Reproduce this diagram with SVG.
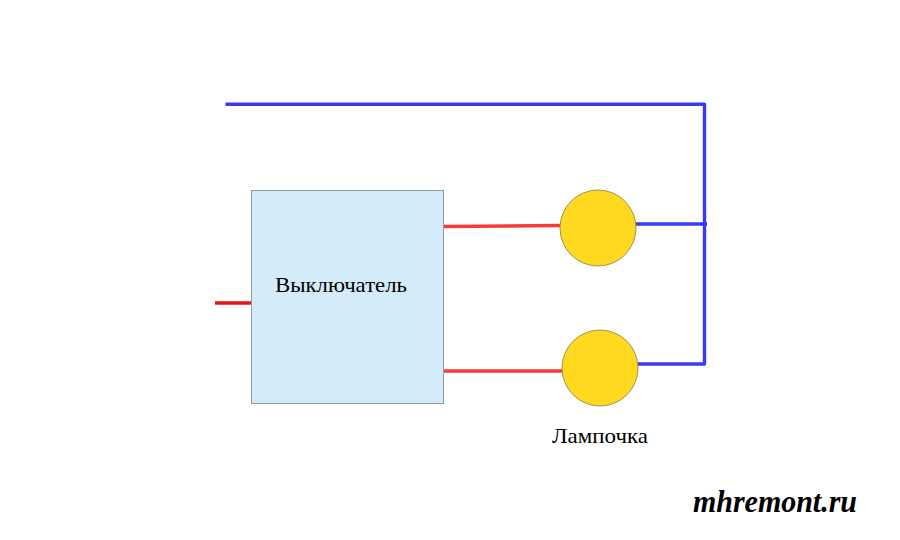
<svg xmlns="http://www.w3.org/2000/svg" width="900" height="540" viewBox="0 0 900 540">
<style>
.bg{fill:#fff}
.w{fill:none;stroke-width:3.4;stroke-linecap:butt;stroke-linejoin:round}
.b{stroke:#3b3bf2}
.r{stroke:#f53b3b}
.r2{stroke:#e81414}
.lamp{fill:#ffd91f;stroke:#a09050;stroke-width:1}
.t{font-family:"Liberation Serif","Times New Roman",serif;font-size:21px;fill:#000}
.logo{font-family:"Liberation Serif",serif;font-style:italic;font-weight:bold;font-size:31px;fill:#000}
</style>
<rect class="bg" width="900" height="540"/>
<g id="connectors">
<path class="w b" d="M225.500 104.300H704.500V364H638"/>
<path class="w b" d="M636 224H707"/>
<path class="w r" d="M444 226.500L560 225.500"/>
<path class="w r" d="M444 371H562"/>
<path class="w r2" d="M215 303H251"/>
</g>
<g id="switch">
<rect x="251.500" y="190.500" width="192" height="213" fill="#d4ecfa" stroke="#8f9a9f" stroke-width="1"/>
<text class="t" x="275" y="292" textLength="132" lengthAdjust="spacingAndGlyphs">Выключатель</text>
</g>
<g id="lamp1"><circle class="lamp" cx="598" cy="228" r="38"/></g>
<g id="lamp2"><circle class="lamp" cx="600" cy="368" r="38"/></g>
<text id="lamp-label" class="t" x="552" y="443" textLength="96" lengthAdjust="spacingAndGlyphs">Лампочка</text>
<text id="logo" class="logo" x="693" y="512" textLength="164" lengthAdjust="spacingAndGlyphs">mhremont.ru</text>
</svg>
